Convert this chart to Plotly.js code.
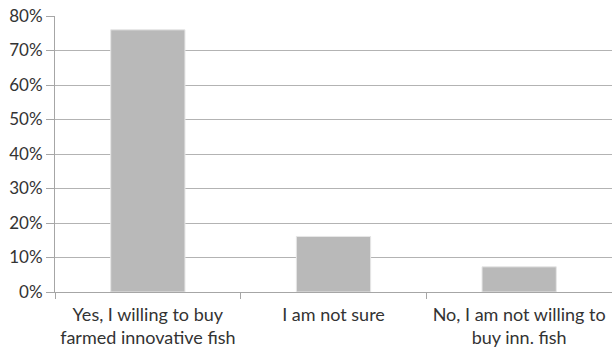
<!DOCTYPE html>
<html>
<head>
<meta charset="utf-8">
<script src="https://cdn.plot.ly/plotly-3.0.1.min.js"></script>
<style>html,body{margin:0;padding:0;background:#fff;}#chart{width:612px;height:349px;}</style>
</head>
<body>
<div id="chart"></div>
<script>
const categories = [
  "Yes, I willing to buy<br>farmed innovative fish",
  "I am not sure",
  "No, I am not willing to<br>buy inn. fish"
];
const shares = [0.76, 0.161, 0.073];
const yTickValues = [0, 0.1, 0.2, 0.3, 0.4, 0.5, 0.6, 0.7, 0.8];
const yTickLabels = ["0%", "10%", "20%", "30%", "40%", "50%", "60%", "70%", "80%"];

const trace = {
  type: "bar",
  x: categories,
  y: shares,
  marker: {color: "#b9b9b9", line: {color: "#e6e6e6", width: 1}},
  hoverinfo: "none"
};

const layout = {
  width: 612,
  height: 349,
  margin: {l: 55, r: 0, t: 16, b: 57, pad: 0},
  paper_bgcolor: "#ffffff",
  plot_bgcolor: "#ffffff",
  showlegend: false,
  bargap: 0.6,
  font: {family: "Lato, 'Open Sans', sans-serif", size: 18, color: "#333333"},
  xaxis: {
    type: "category",
    showgrid: false,
    showline: true,
    linecolor: "#a6a6a6",
    linewidth: 1,
    ticks: "outside",
    tickson: "boundaries",
    ticklen: 6,
    tickcolor: "#a6a6a6",
    tickfont: {family: "Lato, 'Open Sans', sans-serif", size: 18, color: "#333333"},
    ticklabelstandoff: 6,
    zeroline: false
  },
  yaxis: {
    range: [0, 0.8],
    tickvals: yTickValues,
    ticktext: yTickLabels,
    showgrid: true,
    gridcolor: "#b3b3b3",
    gridwidth: 1,
    showline: true,
    linecolor: "#a6a6a6",
    linewidth: 1,
    ticks: "outside",
    ticklen: 8,
    tickcolor: "#a6a6a6",
    tickfont: {family: "Lato, 'Open Sans', sans-serif", size: 17, color: "#333333"},
    zeroline: false,
    fixedrange: true
  }
};

Plotly.newPlot("chart", [trace], layout, {displayModeBar: false, staticPlot: true});
</script>
</body>
</html>
